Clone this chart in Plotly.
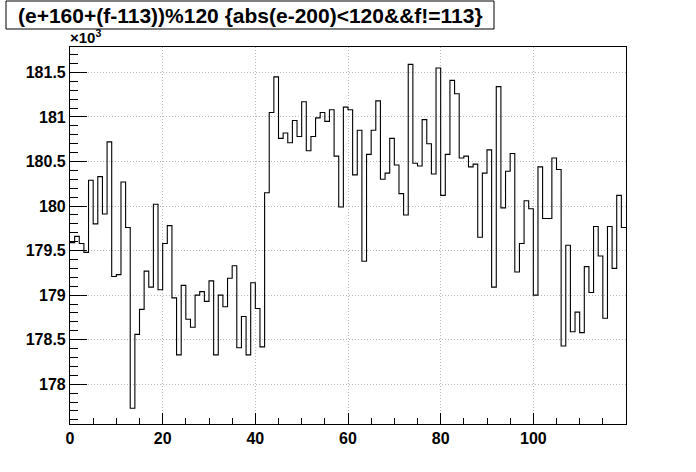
import plotly.graph_objects as go

# bin contents (counts), 120 bins on [0, 120)
counts_k = [
    179.59, 179.66, 179.58, 179.48, 180.29, 179.80, 180.33, 179.91, 180.72, 179.21,
    179.23, 180.27, 179.76, 177.73, 178.56, 178.84, 179.27, 179.09, 180.02, 179.06,
    179.58, 179.78, 178.97, 178.33, 179.11, 178.73, 178.64, 179.00, 179.04, 178.93,
    179.16, 178.33, 179.00, 178.87, 179.19, 179.33, 178.41, 178.76, 178.33, 179.14,
    178.85, 178.42, 180.15, 181.05, 181.45, 180.76, 180.82, 180.71, 180.96, 180.78,
    181.17, 180.62, 180.78, 180.99, 181.05, 180.95, 181.08, 180.56, 179.99, 181.11,
    181.08, 180.35, 180.85, 179.38, 180.58, 180.85, 181.18, 180.30, 180.37, 180.76,
    180.46, 180.14, 179.90, 181.59, 180.48, 180.45, 180.97, 180.70, 180.36, 181.55,
    180.12, 180.58, 181.41, 181.26, 180.54, 180.56, 180.44, 180.47, 179.65, 180.37,
    180.63, 179.09, 181.34, 179.98, 180.39, 180.59, 179.26, 179.58, 180.06, 179.97,
    179.00, 180.44, 179.86, 179.86, 180.54, 180.41, 178.43, 179.56, 178.59, 178.81,
    178.58, 179.32, 179.03, 179.77, 179.44, 178.74, 179.77, 179.30, 180.12, 179.76,
]
counts = [round(v * 1000) for v in counts_k]
n_bins = 120
x_low, x_high = 0, 120
title_text = "(e+160+(f-113))%120 {abs(e-200)<120&&f!=113}"
y_tick_vals = [178.0, 178.5, 179.0, 179.5, 180.0, 180.5, 181.0, 181.5]
y_tick_text = ["178", "178.5", "179", "179.5", "180", "180.5", "181", "181.5"]
x_tick_vals = [0, 20, 40, 60, 80, 100]

bw = (x_high - x_low) / n_bins
edges = [x_low + i * bw for i in range(n_bins + 1)]
yk = [c / 1000 for c in counts]
ys = yk + [yk[-1]]

font_family = "Liberation Sans, Arial, Helvetica, sans-serif"

# plot frame in page pixels
L, R, T, B = 70, 626, 47, 424
W, H = R - L, B - T


def px(x):
    return (x - L) / W


def py(y):
    return (B - y) / H


fig = go.Figure()
fig.add_trace(go.Scatter(
    x=edges, y=ys, mode="lines", line=dict(shape="hv", color="black", width=1.1),
    hoverinfo="skip", showlegend=False,
))

axis_common = dict(
    showline=True, linecolor="black", linewidth=1.1, mirror=True,
    ticks="inside", tickcolor="black", tickwidth=1.1,
    showgrid=True, gridcolor="#b8b8b8", gridwidth=1, griddash="1px,2px",
    zeroline=False, automargin=False,
    tickfont=dict(family=font_family, size=16, color="black", weight="bold"),
)

fig.update_xaxes(
    range=[x_low, x_high], tickvals=x_tick_vals, ticklen=11,
    minor=dict(dtick=5, tick0=0, ticks="inside", ticklen=6, tickcolor="black", tickwidth=1.1, showgrid=False),
    **axis_common,
)
fig.update_yaxes(
    range=[177.554, 181.785], tickvals=y_tick_vals, ticktext=y_tick_text, ticklen=17,
    minor=dict(dtick=0.1, tick0=0, ticks="inside", ticklen=8, tickcolor="black", tickwidth=1.1, showgrid=False),
    **axis_common,
)

fig.update_layout(
    width=696, height=472,
    margin=dict(l=L, r=696 - R, t=T, b=472 - B),
    paper_bgcolor="white", plot_bgcolor="white",
    shapes=[dict(
        type="rect", xref="paper", yref="paper",
        x0=px(6), x1=px(494), y0=py(29), y1=py(1),
        line=dict(color="black", width=1), fillcolor="white", layer="above",
    )],
    annotations=[
        dict(text=title_text, xref="paper", yref="paper",
             x=px(250), y=py(15), xanchor="center", yanchor="middle",
             showarrow=False,
             font=dict(family=font_family, size=21, color="black", weight="bold")),
        dict(text="×10<sup>3</sup>", xref="paper", yref="paper",
             x=px(68), y=py(37), xanchor="left", yanchor="middle",
             showarrow=False,
             font=dict(family=font_family, size=15, color="black", weight="bold")),
    ],
)

fig.write_html(
    "out.html",
    config={"displayModeBar": False},
    post_script="document.body.style.margin='0';document.body.style.padding='0';",
)
